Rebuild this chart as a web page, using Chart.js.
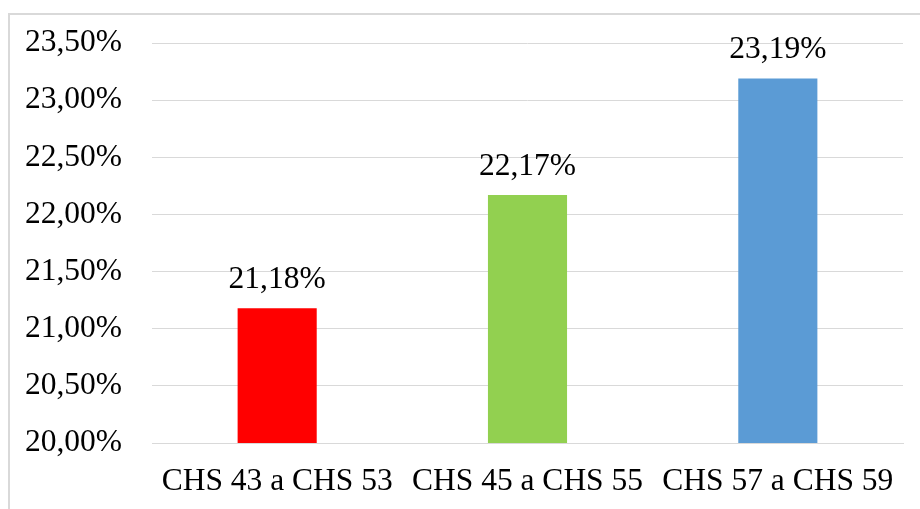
<!DOCTYPE html>
<html>
<head>
<meta charset="utf-8">
<script src="https://cdn.jsdelivr.net/npm/chart.js@4/dist/chart.umd.min.js"></script>
<style>
  html, body { margin: 0; padding: 0; background: #fff; overflow: hidden; }
  #frame { position: absolute; left: 8px; top: 13px; width: 940px; height: 600px; border: 2px solid #d9d9d9; box-sizing: border-box; }
  #wrap { position: absolute; left: 0; top: 0; width: 920px; height: 509px; }
</style>
</head>
<body>
<div id="frame"></div>
<div id="wrap"><canvas id="c" width="920" height="509"></canvas></div>
<script>
const categories = ["CHS 43 a CHS 53", "CHS 45 a CHS 55", "CHS 57 a CHS 59"];
const values = [21.18, 22.17, 23.19];
const barColors = ["#ff0000", "#92d050", "#5b9bd5"];
const yMin = 20.0, yMax = 23.5, yStep = 0.5;

const fmt = v => v.toFixed(2).replace('.', ',') + '%';
const FONT = "'Liberation Serif', 'Times New Roman', serif";
const FS = 31.5;

const labelPlugin = {
  id: 'barLabels',
  afterDatasetsDraw(chart) {
    const ctx = chart.ctx;
    const meta = chart.getDatasetMeta(0);
    ctx.save();
    ctx.font = FS + "px " + FONT;
    ctx.fillStyle = "#000";
    ctx.textAlign = "center";
    ctx.textBaseline = "alphabetic";
    meta.data.forEach((bar, i) => {
      ctx.fillText(fmt(values[i]), bar.x, bar.y - 20);
    });
    ctx.restore();
  }
};

new Chart(document.getElementById('c'), {
  type: 'bar',
  data: {
    labels: categories,
    datasets: [{
      data: values,
      backgroundColor: barColors,
      borderWidth: 0,
      categoryPercentage: 1.0,
      barPercentage: 0.316
    }]
  },
  options: {
    responsive: false,
    animation: false,
    layout: { padding: { top: 43, right: 17, left: 0, bottom: 0 } },
    plugins: { legend: { display: false }, tooltip: { enabled: false } },
    scales: {
      x: {
        grid: { display: false, drawTicks: false },
        border: { display: true, color: '#d9d9d9', width: 1 },
        ticks: { color: '#000', font: { family: FONT, size: FS }, padding: 20, maxRotation: 0, autoSkip: false },
        afterFit(s) { s.height = 66; s.paddingLeft = 0; s.paddingRight = 0; }
      },
      y: {
        min: yMin, max: yMax,
        grid: { color: '#d9d9d9', lineWidth: 1, drawTicks: false },
        border: { display: false },
        ticks: { stepSize: yStep, color: '#000', font: { family: FONT, size: FS }, padding: 30, callback: v => fmt(v) },
        afterFit(s) { s.width = 152; s.paddingTop = 0; s.paddingBottom = 0; }
      }
    }
  },
  plugins: [labelPlugin]
});
</script>
</body>
</html>
